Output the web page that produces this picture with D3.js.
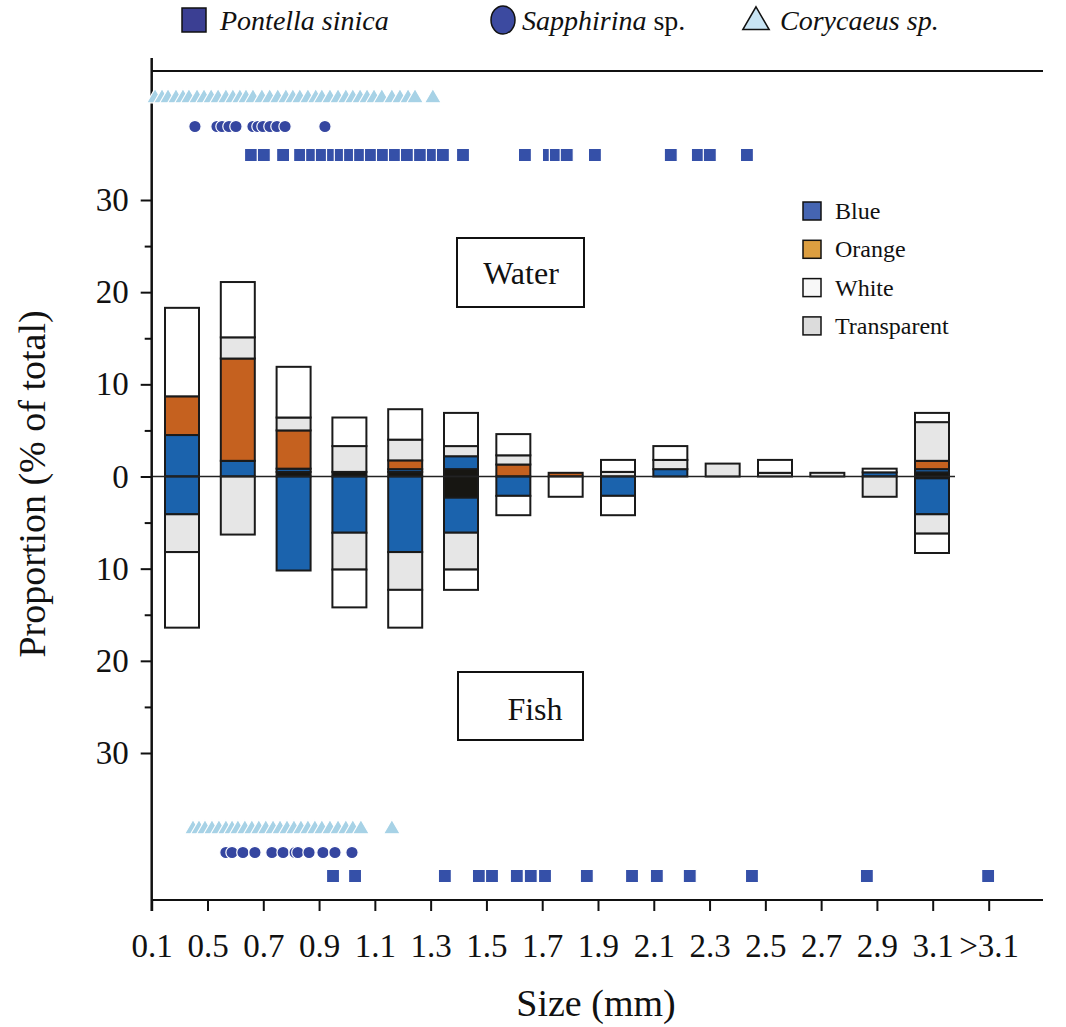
<!DOCTYPE html>
<html>
<head>
<meta charset="utf-8">
<script src="https://cdn.jsdelivr.net/npm/d3@7"></script>
<style>
  body { margin: 0; background: #fff; }
  text { font-family: "Liberation Serif", "Times New Roman", serif; fill: #111; }
</style>
</head>
<body>
<svg id="chart" width="1066" height="1027"></svg>
<script>
// size classes (one bar per class)
var sizeClasses = ["0.1-0.5", "0.5-0.7", "0.7-0.9", "0.9-1.1", "1.1-1.3", "1.3-1.5", "1.5-1.7", "1.7-1.9",
  "1.9-2.1", "2.1-2.3", "2.3-2.5", "2.5-2.7", "2.7-2.9", "2.9-3.1", ">3.1"];
var tickSizes = [0.1, 0.5, 0.7, 0.9, 1.1, 1.3, 1.5, 1.7, 1.9, 2.1, 2.3, 2.5, 2.7, 2.9, 3.1, 3.3];
var tickLabels = ["0.1", "0.5", "0.7", "0.9", "1.1", "1.3", "1.5", "1.7", "1.9", "2.1", "2.3", "2.5", "2.7", "2.9", "3.1", ">3.1"];

// Water (above zero), % of total, stacked from zero outward
var waterBlack = [0, 0, 0.5, 0.5, 0.5, 0.8, 0, 0, 0, 0, 0, 0, 0, 0, 0.45];
var waterBlue = [4.5, 1.7, 0.35, 0, 0.3, 1.4, 0, 0, 0, 0.8, 0, 0, 0, 0.45, 0.35];
var waterOrange = [4.2, 11.1, 4.15, 0, 0.95, 0, 1.3, 0.4, 0, 0, 0, 0, 0, 0, 0.9];
var waterTransparent = [0, 2.3, 1.4, 2.8, 2.25, 1.1, 1.0, 0, 0.5, 1.0, 1.4, 0.4, 0.4, 0, 4.2];
var waterWhite = [9.6, 6.0, 5.5, 3.1, 3.3, 3.6, 2.3, 0, 1.3, 1.5, 0, 1.4, 0, 0.4, 1.0];

// Fish (below zero)
var fishBlack = [0, 0, 0, 0, 0, 2.3, 0, 0, 0, 0, 0, 0, 0, 0, 0.2];
var fishBlue = [4.1, 0, 10.2, 6.1, 8.2, 3.8, 2.1, 0, 2.1, 0, 0, 0, 0, 0, 3.9];
var fishOrange = [0, 0, 0, 0, 0, 0, 0, 0, 0, 0, 0, 0, 0, 0, 0];
var fishTransparent = [4.1, 6.3, 0, 4.0, 4.1, 4.0, 0, 0, 0, 0, 0, 0, 0, 2.2, 2.1];
var fishWhite = [8.2, 0, 0, 4.1, 4.1, 2.2, 2.1, 2.2, 2.1, 0, 0, 0, 0, 0, 2.1];

// prey sizes (mm) in water
var waterPontella = [0.656, 0.702, 0.771, 0.832, 0.875, 0.910, 0.950, 0.978, 1.011, 1.047, 1.086, 1.129,
  1.172, 1.215, 1.262, 1.308, 1.344, 1.416, 1.638, 1.724, 1.749, 1.788, 1.889, 2.161, 2.258, 2.301, 2.434];
var waterSapphirina = [0.410, 0.534, 0.552, 0.577, 0.602, 0.663, 0.681, 0.699, 0.724, 0.749, 0.778, 0.921];
var waterCorycaeus = [0.124, 0.174, 0.217, 0.274, 0.324, 0.367, 0.425, 0.475, 0.513, 0.538, 0.566, 0.591,
  0.616, 0.638, 0.663, 0.695, 0.723, 0.752, 0.781, 0.806, 0.831, 0.860, 0.888, 0.910, 0.939, 0.968,
  0.996, 1.021, 1.047, 1.072, 1.097, 1.125, 1.161, 1.190, 1.219, 1.244, 1.308];

// prey sizes (mm) in fish
var fishPontella = [0.950, 1.029, 1.351, 1.473, 1.520, 1.609, 1.659, 1.710, 1.860, 2.022, 2.111, 2.229,
  2.452, 2.864, 3.298];
var fishSapphirina = [0.566, 0.588, 0.627, 0.670, 0.731, 0.771, 0.814, 0.824, 0.864, 0.914, 0.957, 1.018];
var fishCorycaeus = [0.396, 0.439, 0.482, 0.516, 0.541, 0.566, 0.588, 0.609, 0.634, 0.659, 0.684, 0.709,
  0.735, 0.760, 0.785, 0.810, 0.835, 0.860, 0.885, 0.910, 0.939, 0.968, 0.996, 1.021, 1.050, 1.161];

var colors = { black: "#171612", blue: "#1b63ad", orange: "#c5611f", transparent: "#e6e6e6", white: "#ffffff" };

var svg = d3.select("#chart");

// scales
var x = d3.scaleLinear().domain([0.1, 0.5, 3.1, 3.3]).range([151.7, 207.5, 932.7, 988.7]);
var xBar = d3.scaleLinear().domain([0, 5, 14]).range([182, 461, 932]);
var y = d3.scaleLinear().domain([-30, 30]).range([753, 200]);
var barW = 34;

// build stacked segments
function segments(stack, sign) {
  var out = [];
  sizeClasses.forEach(function (c, i) {
    var base = 0;
    stack.forEach(function (s) {
      var v = s.values[i];
      if (v > 0) {
        out.push({ i: i, key: s.key, y0: sign * base, y1: sign * (base + v) });
        base += v;
      }
    });
  });
  return out;
}

var waterSegs = segments([
  { key: "black", values: waterBlack },
  { key: "blue", values: waterBlue },
  { key: "orange", values: waterOrange },
  { key: "transparent", values: waterTransparent },
  { key: "white", values: waterWhite }
], 1);
var fishSegs = segments([
  { key: "black", values: fishBlack },
  { key: "blue", values: fishBlue },
  { key: "orange", values: fishOrange },
  { key: "transparent", values: fishTransparent },
  { key: "white", values: fishWhite }
], -1);

svg.append("g")
  .selectAll("rect")
  .data(waterSegs.concat(fishSegs))
  .join("rect")
  .attr("x", function (d) { return xBar(d.i) - barW / 2; })
  .attr("width", barW)
  .attr("y", function (d) { return Math.min(y(d.y0), y(d.y1)); })
  .attr("height", function (d) { return Math.abs(y(d.y0) - y(d.y1)); })
  .attr("fill", function (d) { return colors[d.key]; })
  .attr("stroke", "#1a1a1a")
  .attr("stroke-width", 2);

// zero line
svg.append("line")
  .attr("x1", 151.7).attr("x2", 955)
  .attr("y1", y(0)).attr("y2", y(0))
  .attr("stroke", "#222").attr("stroke-width", 1.5);

// frame lines
svg.append("line").attr("x1", 151.7).attr("x2", 1043).attr("y1", 71).attr("y2", 71)
  .attr("stroke", "#111").attr("stroke-width", 2);
svg.append("line").attr("x1", 151.7).attr("x2", 1043).attr("y1", 900).attr("y2", 900)
  .attr("stroke", "#111").attr("stroke-width", 2);
svg.append("line").attr("x1", 151.7).attr("x2", 151.7).attr("y1", 58).attr("y2", 911)
  .attr("stroke", "#111").attr("stroke-width", 2.5);

// y axis
var yAxis = svg.append("g")
  .attr("transform", "translate(151.7,0)")
  .call(d3.axisLeft(y).tickValues([-30, -20, -10, 0, 10, 20, 30])
    .tickFormat(function (d) { return Math.abs(d); })
    .tickSize(11).tickPadding(12));
yAxis.select(".domain").remove();
yAxis.selectAll("line").attr("stroke", "#111").attr("stroke-width", 2);
yAxis.selectAll("text").style("font-size", "33px").attr("font-family", null);

var yMinor = svg.append("g")
  .attr("transform", "translate(151.7,0)")
  .call(d3.axisLeft(y).tickValues([-25, -15, -5, 5, 15, 25]).tickFormat("").tickSize(7));
yMinor.select(".domain").remove();
yMinor.selectAll("line").attr("stroke", "#111").attr("stroke-width", 2);

// x axis
var xAxis = svg.append("g")
  .attr("transform", "translate(0,900)")
  .call(d3.axisBottom(x).tickValues(tickSizes)
    .tickFormat(function (d, i) { return tickLabels[i]; })
    .tickSize(11).tickPadding(23));
xAxis.select(".domain").remove();
xAxis.selectAll("line").attr("stroke", "#111").attr("stroke-width", 2);
xAxis.selectAll("text").style("font-size", "33px").attr("font-family", null);

// axis titles
svg.append("text")
  .attr("transform", "translate(45,484) rotate(-90)")
  .attr("text-anchor", "middle")
  .style("font-size", "38px")
  .text("Proportion (% of total)");
svg.append("text")
  .attr("x", 596).attr("y", 1016)
  .attr("text-anchor", "middle")
  .style("font-size", "38px")
  .text("Size (mm)");

// prey size markers
var species = ["Corycaeus sp.", "Sapphirina sp.", "Pontella sinica"];
var rowTop = d3.scalePoint().domain(species).range([98, 155]);
var rowBottom = d3.scalePoint().domain(species).range([829, 876]);
var markerStyle = {
  "Corycaeus sp.": { type: d3.symbolTriangle, size: 120, fill: "#a7d2e6" },
  "Sapphirina sp.": { type: d3.symbolCircle, size: 120, fill: "#3546a0" },
  "Pontella sinica": { type: d3.symbolSquare, size: 170, fill: "#3550a8" }
};

function drawMarkers(rows, sets) {
  sets.forEach(function (s) {
    var st = markerStyle[s.name];
    svg.append("g")
      .selectAll("path")
      .data(s.values)
      .join("path")
      .attr("d", d3.symbol().type(st.type).size(st.size))
      .attr("transform", function (d) { return "translate(" + x(d) + "," + rows(s.name) + ")"; })
      .attr("fill", st.fill)
      .attr("stroke", "#fff")
      .attr("stroke-width", 1.2);
  });
}
drawMarkers(rowTop, [
  { name: "Corycaeus sp.", values: waterCorycaeus },
  { name: "Sapphirina sp.", values: waterSapphirina },
  { name: "Pontella sinica", values: waterPontella }
]);
drawMarkers(rowBottom, [
  { name: "Corycaeus sp.", values: fishCorycaeus },
  { name: "Sapphirina sp.", values: fishSapphirina },
  { name: "Pontella sinica", values: fishPontella }
]);

// species legend (top)
var speciesLegend = svg.append("g");
speciesLegend.append("rect").attr("x", 182).attr("y", 8).attr("width", 24).attr("height", 24)
  .attr("fill", "#3b3f93").attr("stroke", "#111").attr("stroke-width", 1.5);
speciesLegend.append("text").attr("x", 220).attr("y", 30).style("font-size", "28px")
  .style("font-style", "italic").text("Pontella sinica");
speciesLegend.append("ellipse").attr("cx", 503).attr("cy", 20).attr("rx", 12).attr("ry", 14)
  .attr("fill", "#3c4aa0").attr("stroke", "#111").attr("stroke-width", 1.5);
var t2 = speciesLegend.append("text").attr("x", 522).attr("y", 30).style("font-size", "28px");
t2.append("tspan").style("font-style", "italic").text("Sapphirina");
t2.append("tspan").text(" sp.");
speciesLegend.append("path").attr("d", d3.symbol().type(d3.symbolTriangle).size(300))
  .attr("transform", "translate(756,22)")
  .attr("fill", "#c8e4f4").attr("stroke", "#111").attr("stroke-width", 1.5);
speciesLegend.append("text").attr("x", 780).attr("y", 30).style("font-size", "28px")
  .style("font-style", "italic").text("Corycaeus sp.");

// colour legend
var legendKeys = ["Blue", "Orange", "White", "Transparent"];
var legendFill = ["#4565b2", "#dc9e40", "#f8f8f8", "#dcdcdc"];
var legend = svg.selectAll(".legend")
  .data(legendKeys)
  .enter()
  .append("g")
  .attr("class", "legend")
  .attr("transform", function (d, i) { return "translate(803," + (211 + i * 38.3) + ")"; });
legend.append("rect")
  .attr("x", 0).attr("y", -9).attr("width", 18).attr("height", 18)
  .attr("fill", function (d, i) { return legendFill[i]; })
  .attr("stroke", "#111").attr("stroke-width", 1.5);
legend.append("text")
  .attr("x", 32).attr("y", 8)
  .style("font-size", "24px")
  .text(function (d) { return d; });

// Water / Fish boxes
svg.append("rect").attr("x", 457).attr("y", 238).attr("width", 127).attr("height", 69)
  .attr("fill", "#fff").attr("stroke", "#111").attr("stroke-width", 2);
svg.append("text").attr("x", 521).attr("y", 284).attr("text-anchor", "middle")
  .style("font-size", "32px").text("Water");
svg.append("rect").attr("x", 458).attr("y", 672).attr("width", 125).attr("height", 68)
  .attr("fill", "#fff").attr("stroke", "#111").attr("stroke-width", 2);
svg.append("text").attr("x", 535).attr("y", 720).attr("text-anchor", "middle")
  .style("font-size", "32px").text("Fish");
</script>
</body>
</html>
